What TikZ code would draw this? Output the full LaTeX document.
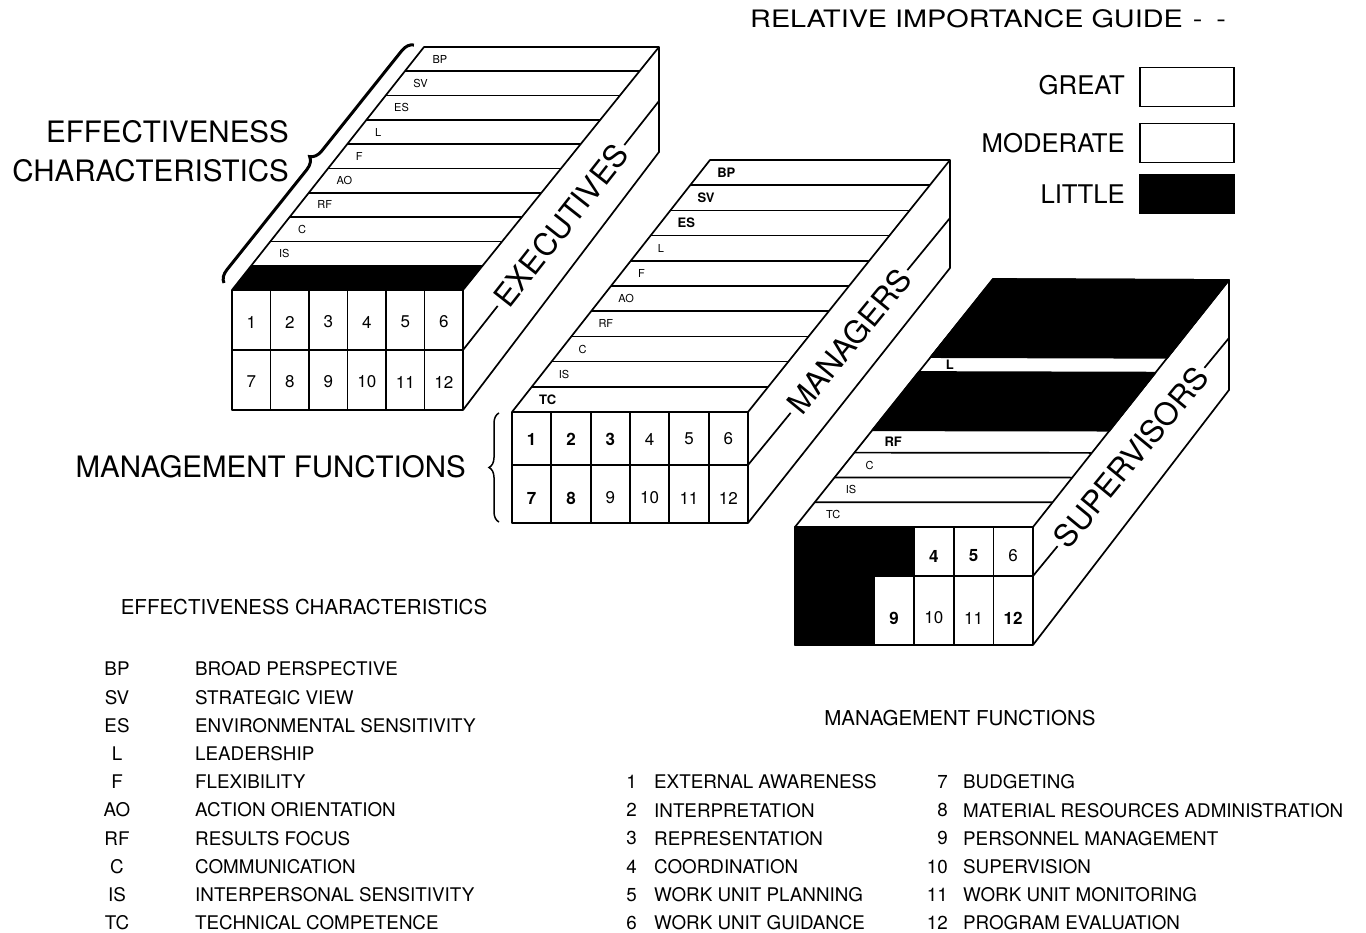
\documentclass[tikz,border=0pt]{standalone}
\usepackage{fontspec}
\setmainfont{TeX Gyre Heros}
\newfontfamily\wideheros[FakeStretch=1.2]{TeX Gyre Heros}
\usetikzlibrary{calc,decorations.pathreplacing}

\begin{document}
\begin{tikzpicture}[x=1pt,y=-1pt,
edge/.style={line width=1.7pt,line join=round},
bigtext/.style={font=\fontsize{29.5}{39}\selectfont,inner sep=0pt},
facetext/.style={font=\fontsize{31}{36}\selectfont,fill=white,inner sep=4pt,sloped},
stripthin/.style={font=\fontsize{11}{12}\selectfont,inner sep=0pt,anchor=west},
stripbold/.style={font=\fontsize{13}{14}\selectfont\bfseries,inner sep=0pt,anchor=west},
cellthin/.style={font=\fontsize{17}{18}\selectfont,inner sep=0pt},
cellbold/.style={font=\fontsize{17}{18}\selectfont\bfseries,inner sep=0pt},
guidetext/.style={font=\fontsize{25.7}{30}\selectfont,inner sep=0pt,anchor=east},
keybox/.style={draw,line width=1.3pt,minimum width=94pt,minimum height=39pt,inner sep=0pt},
listhead/.style={font=\fontsize{20.5}{24}\selectfont,inner sep=0pt},
listtext/.style={font=\fontsize{18.8}{22}\selectfont,inner sep=0pt},
little/.style={fill=black}
]
\useasboundingbox (0,0) rectangle (1366,933);

% executives
\coordinate (ex-ftl) at (232,290);
\coordinate (ex-ftr) at (463,290);
\coordinate (ex-fbl) at (232,410);
\coordinate (ex-fbr) at (463,410);
\coordinate (ex-btl) at (424,47);
\coordinate (ex-btr) at (659,47);
\coordinate (ex-bbr) at (659,152);
\fill[little] (ex-ftl) -- (ex-ftr) -- ($(ex-ftr)!0.1!(ex-btr)$) -- ($(ex-ftl)!0.1!(ex-btl)$) -- cycle;
\foreach \i in {1,...,9}
  \draw[edge] ($(ex-ftl)!\i/10!(ex-btl)$) -- ($(ex-ftr)!\i/10!(ex-btr)$);
\draw[edge] (232,350) -- (463,350);
\foreach \k in {1,...,5}
  \draw[edge] ({232+38.5*\k},290) -- ({232+38.5*\k},410);
\draw[edge] (ex-fbl) -- (ex-ftl) -- (ex-btl) -- (ex-btr) -- (ex-bbr) -- (ex-fbr) -- cycle;
\draw[edge] (ex-ftl) -- (ex-ftr) -- (ex-btr);
\draw[edge] (ex-ftr) -- (ex-fbr);
\foreach \lab [count=\i] in {BP,SV,ES,L,F,AO,RF,C,IS}
  \node[stripthin] (ex-s\i) at ($(ex-ftl)!{(10.5-\i)/10}!(ex-btl)+(18,0)$) {\lab};
\foreach \n in {1,...,6}{
  \pgfmathtruncatemacro\m{\n+6}
  \node[cellthin] (ex-c\n) at ({232+38.5*(\n-0.5)},322) {\n};
  \node[cellthin] (ex-c\m) at ({232+38.5*(\n-0.5)},382) {\m};
}
\draw[edge] (463,350) -- node[facetext] (ex-name) {EXECUTIVES} (659,101);

% managers
\coordinate (mg-ftl) at (512,412);
\coordinate (mg-ftr) at (748,412);
\coordinate (mg-fbl) at (512,523);
\coordinate (mg-fbr) at (748,523);
\coordinate (mg-btl) at (710,160);
\coordinate (mg-btr) at (950,160);
\coordinate (mg-bbr) at (950,268);
\foreach \i in {1,...,9}
  \draw[edge] ($(mg-ftl)!\i/10!(mg-btl)$) -- ($(mg-ftr)!\i/10!(mg-btr)$);
\draw[edge] (512,465) -- (748,465);
\foreach \k in {1,...,5}
  \draw[edge] ({512+39.33*\k},412) -- ({512+39.33*\k},523);
\draw[edge] (mg-fbl) -- (mg-ftl) -- (mg-btl) -- (mg-btr) -- (mg-bbr) -- (mg-fbr) -- cycle;
\draw[edge] (mg-ftl) -- (mg-ftr) -- (mg-btr);
\draw[edge] (mg-ftr) -- (mg-fbr);
\foreach \lab/\sty [count=\i] in {BP/stripbold,SV/stripbold,ES/stripbold,L/stripthin,F/stripthin,
    AO/stripthin,RF/stripthin,C/stripthin,IS/stripthin,TC/stripbold}
  \node[\sty] (mg-s\i) at ($(mg-ftl)!{(10.5-\i)/10}!(mg-btl)+(17,0)$) {\lab};
\foreach \n/\sty [count=\k] in {1/cellbold,2/cellbold,3/cellbold,4/cellthin,5/cellthin,6/cellthin}
  \node[\sty] (mg-c\n) at ({512+39.33*(\k-0.5)},439) {\n};
\foreach \n/\sty [count=\k] in {7/cellbold,8/cellbold,9/cellthin,10/cellthin,11/cellthin,12/cellthin}
  \node[\sty] (mg-c\n) at ({512+39.33*(\k-0.5)},498) {\n};
\draw[edge] (748,465) -- node[facetext] (mg-name) {MANAGERS} (950,218);

% supervisors
\coordinate (sp-ftl) at (795,527);
\coordinate (sp-ftr) at (1033,527);
\coordinate (sp-fbl) at (795,645);
\coordinate (sp-fbr) at (1033,645);
\coordinate (sp-btl) at (993,279);
\coordinate (sp-btr) at (1229,280);
\coordinate (sp-bbr) at (1229,390);
\foreach \i in {1,...,3}
  \draw[edge] ($(sp-ftl)!\i/10!(sp-btl)$) -- ($(sp-ftr)!\i/10!(sp-btr)$);
\filldraw[edge,little] ($(sp-ftl)!0.39!(sp-btl)$) -- ($(sp-ftr)!0.39!(sp-btr)$)
  -- ($(sp-ftr)!0.625!(sp-btr)$) -- ($(sp-ftl)!0.625!(sp-btl)$) -- cycle;
\filldraw[edge,little] ($(sp-ftl)!0.685!(sp-btl)$) -- ($(sp-ftr)!0.685!(sp-btr)$)
  -- (sp-btr) -- (sp-btl) -- cycle;
\draw[edge] (874,576) -- (1033,576);
\foreach \k in {3,...,5}
  \draw[edge] ({795+39.67*\k},527) -- ({795+39.67*\k},645);
\filldraw[edge,little] (795,527) -- (914,527) -- (914,576) -- (874,576) -- (874,645) -- (795,645) -- cycle;
\draw[edge] (sp-fbl) -- (sp-ftl) -- (sp-btl) -- (sp-btr) -- (sp-bbr) -- (sp-fbr) -- cycle;
\draw[edge] (sp-ftl) -- (sp-ftr) -- (sp-btr);
\draw[edge] (sp-ftr) -- (sp-fbr);
\node[stripbold] (sp-s4) at ($(sp-ftl)!0.655!(sp-btl)+(21,0)$) {L};
\node[stripbold] (sp-s7) at ($(sp-ftl)!0.345!(sp-btl)+(21,0)$) {RF};
\node[stripthin] (sp-s8) at ($(sp-ftl)!0.25!(sp-btl)+(21,0)$) {C};
\node[stripthin] (sp-s9) at ($(sp-ftl)!0.15!(sp-btl)+(21,0)$) {IS};
\node[stripthin] (sp-s10) at ($(sp-ftl)!0.05!(sp-btl)+(21,0)$) {TC};
\foreach \n/\sty/\k in {4/cellbold/4,5/cellbold/5,6/cellthin/6}
  \node[\sty] (sp-c\n) at ({795+39.67*(\k-0.5)},556) {\n};
\foreach \n/\sty/\k in {9/cellbold/3,10/cellthin/4,11/cellthin/5,12/cellbold/6}
  \node[\sty] (sp-c\n) at ({795+39.67*(\k-0.5)},618) {\n};
\draw[edge] (1033,576) -- node[facetext] (sp-name) {SUPERVISORS} (1229,338);

% side titles and braces
\node[bigtext,align=right,anchor=east] (ec-title) at (289,151) {EFFECTIVENESS\\CHARACTERISTICS};
\draw[line width=3pt,decorate,decoration={brace,amplitude=12pt}] (224,283) -- (414,45);
\node[bigtext,anchor=east] (mf-title) at (466,467) {MANAGEMENT FUNCTIONS};
\draw[line width=1.5pt,decorate,decoration={brace,amplitude=10pt}] (499,522) -- (499,413);

% importance guide
\node[font=\wideheros\fontsize{24}{28}\selectfont,inner sep=0pt,anchor=west] (guide) at (750,19)
  {RELATIVE IMPORTANCE GUIDE\hspace{10pt}-\hspace{14pt}-};
\node[guidetext] (great) at (1125,85) {GREAT};
\node[keybox] (great-box) at (1187,87) {};
\node[guidetext] (moderate) at (1125,143) {MODERATE};
\node[keybox] (moderate-box) at (1187,143) {};
\node[guidetext] (little) at (1125,194) {LITTLE};
\node[keybox,little,minimum height=38pt] (little-box) at (1187,194) {};

% effectiveness characteristics list
\node[listhead] (ec-head) at (304,607) {EFFECTIVENESS CHARACTERISTICS};
\foreach \ab/\name [count=\i] in {BP/BROAD PERSPECTIVE,SV/STRATEGIC VIEW,
    ES/ENVIRONMENTAL SENSITIVITY,L/LEADERSHIP,F/FLEXIBILITY,AO/ACTION ORIENTATION,
    RF/RESULTS FOCUS,C/COMMUNICATION,IS/INTERPERSONAL SENSITIVITY,TC/TECHNICAL COMPETENCE}{
  \node[listtext] (ec-ab\i) at (117,{669+28.2*(\i-1)}) {\ab};
  \node[listtext,anchor=west] (ec-nm\i) at (195,{669+28.2*(\i-1)}) {\name};
}

% management functions list
\node[listhead] (mf-head) at (960,718) {MANAGEMENT FUNCTIONS};
\foreach \name [count=\i] in {EXTERNAL AWARENESS,INTERPRETATION,REPRESENTATION,
    COORDINATION,WORK UNIT PLANNING,WORK UNIT GUIDANCE}{
  \node[listtext,anchor=east] (mf-no\i) at (637,{782+28.2*(\i-1)}) {\i};
  \node[listtext,anchor=west] (mf-nm\i) at (654,{782+28.2*(\i-1)}) {\name};
}
\foreach \name [count=\i from 7] in {BUDGETING,MATERIAL RESOURCES ADMINISTRATION,
    PERSONNEL MANAGEMENT,SUPERVISION,WORK UNIT MONITORING,PROGRAM EVALUATION}{
  \node[listtext,anchor=east] (mf-no\i) at (948,{782+28.2*(\i-7)}) {\i};
  \node[listtext,anchor=west] (mf-nm\i) at (963,{782+28.2*(\i-7)}) {\name};
}
\end{tikzpicture}
\end{document}
